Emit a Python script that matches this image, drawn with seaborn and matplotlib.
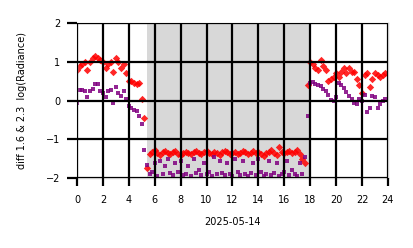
import numpy as np
import pandas as pd
import matplotlib
matplotlib.use("Agg")
import matplotlib.pyplot as plt
import seaborn as sns

# sample times (hours), every 0.2 h
hours = [round(0.2 * i, 1) for i in range(120)]

red_pre = [0.8, 0.9, 0.95, 1.0, 0.8, 1.0, 1.1, 1.15, 1.1, 1.05, 1.0, 0.85, 0.95, 1.0,
           0.75, 1.1, 1.0, 0.85, 0.95, 0.7, 0.5, 0.5, 0.45, 0.42, 0.45, 0.05, -0.45]
red_mid = [-1.75,
           -1.38, -1.32, -1.28, -1.35, -1.40, -1.33, -1.30, -1.36, -1.38, -1.34,
           -1.31, -1.37, -1.40, -1.36, -1.33, -1.35, -1.38, -1.32, -1.30, -1.36,
           -1.39, -1.34, -1.31, -1.35, -1.37, -1.33, -1.36, -1.40, -1.34, -1.30,
           -1.33, -1.37, -1.35, -1.32, -1.38, -1.36, -1.31, -1.34, -1.39, -1.35,
           -1.30, -1.36, -1.33, -1.38, -1.42, -1.36, -1.33, -1.28, -1.35, -1.40,
           -1.20, -1.32, -1.36, -1.33, -1.30, -1.36, -1.32, -1.28, -1.38, -1.50,
           -1.62,
           0.4]
red_post = [1.0, 0.95, 0.85, 0.8, 1.05, 0.9, 0.8, 0.5, 0.55, 0.6, 0.7, 0.6, 0.75, 0.85,
            0.7, 0.85, 0.75, 0.75, 0.55, 0.4, 0.2, 0.65, 0.7, 0.35, 0.55, 0.7, 0.65, 0.6,
            0.65, 0.7]

purple_pre = [-0.05, 0.27, 0.27, 0.25, 0.1, 0.25, 0.3, 0.42, 0.43, 0.25, 0.2, 0.1, 0.25,
              0.28, -0.05, 0.35, 0.2, 0.12, 0.25, 0.05, -0.15, -0.2, -0.25, -0.28, -0.4,
              -0.6, -1.28]
purple_mid = [-1.67,
              -1.9, -1.85, -1.6, -1.95, -1.55, -1.9, -1.7, -1.5, -1.88, -1.93,
              -1.6, -1.85, -1.55, -1.92, -1.9, -1.7, -1.95, -1.5, -1.88, -1.8,
              -1.92, -1.6, -1.9, -1.85, -1.95, -1.45, -1.9, -1.55, -1.88, -1.93,
              -1.6, -1.9, -1.95, -1.5, -1.85, -1.92, -1.55, -1.9, -1.95, -1.88,
              -1.6, -1.92, -1.5, -1.85, -1.95, -1.9, -1.55, -1.93, -1.88, -1.62,
              -1.95, -1.9, -1.85, -1.55, -1.92, -1.8, -1.9, -1.95, -1.6, -1.9,
              -1.45,
              -0.4]
purple_post = [0.45, 0.48, 0.42, 0.4, 0.38, 0.3, 0.25, 0.15, 0.02, 0.0, 0.1, 0.45, 0.4,
               0.32, 0.22, 0.12, 0.05, -0.05, -0.1, 0.05, -0.02, 0.15, -0.3, -0.2, 0.12,
               0.1, -0.2, -0.1, 0.0, 0.05]

night_start, night_end = 5.42, 17.95
xticks = [0, 2, 4, 6, 8, 10, 12, 14, 16, 18, 20, 22, 24]
yticks = [-2, -1, 0, 1, 2]

red = red_pre + red_mid + red_post
purple = purple_pre + purple_mid + purple_post
df = pd.DataFrame({"hour": hours, "red": red, "purple": purple})

fig = plt.figure(figsize=(4.14, 2.48), dpi=100)
ax = fig.add_axes([0.186, 0.282, 0.751, 0.625])

ax.axvspan(night_start, night_end, color="gray", alpha=0.3, lw=0, zorder=0)
sns.scatterplot(data=df, x="hour", y="red", ax=ax, marker="D", color="red",
                alpha=0.85, s=14, linewidth=0, zorder=1)
sns.scatterplot(data=df, x="hour", y="purple", ax=ax, marker="s", color="purple",
                alpha=0.85, s=9, linewidth=0, zorder=1)

ax.set_xlim(0, 24)
ax.set_ylim(-2, 2)
ax.set_xticks(xticks)
ax.set_yticks(yticks)
ax.set_xticklabels([str(t) for t in xticks], fontsize=7)
ax.set_yticklabels(["\u22122", "\u22121", "0", "1", "2"], fontsize=7)
ax.set_axisbelow(False)
ax.grid(True, color="black", linewidth=1.6, zorder=2.5)
ax.tick_params(axis="x", length=6, width=1.6, color="black", pad=6)
ax.tick_params(axis="y", length=7, width=1.6, color="black", pad=5)
for sp in ax.spines.values():
    sp.set_color("#c8c8c8")
    sp.set_linewidth(1.0)

ax.set_xlabel("2025-05-14", fontsize=7, labelpad=9)
ax.set_ylabel("diff 1.6 & 2.3  log(Radiance)", fontsize=7, labelpad=14)

fig.savefig("out.png", dpi=100)
